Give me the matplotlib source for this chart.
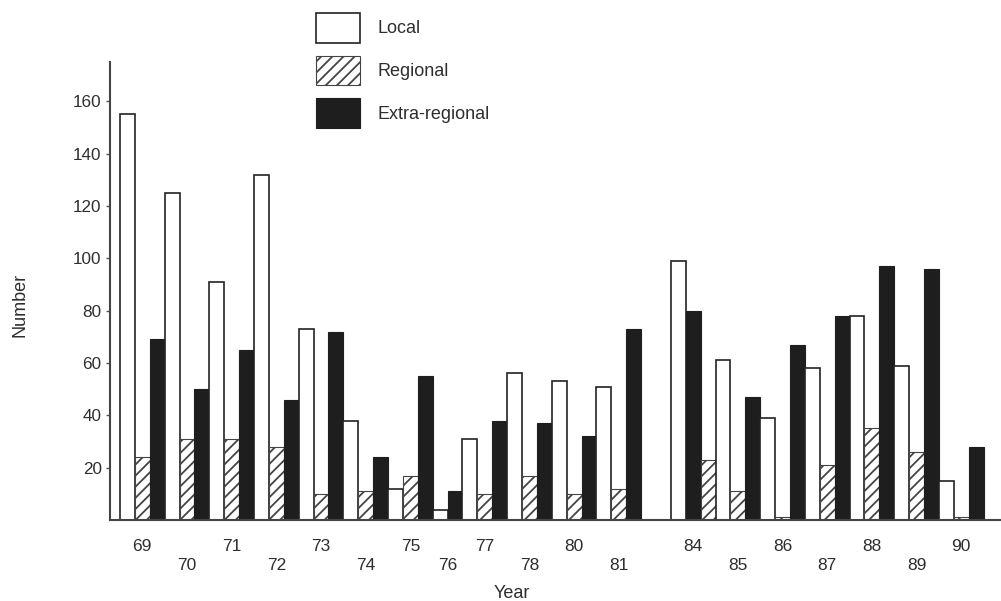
import numpy as np
import matplotlib
matplotlib.use('Agg')
import matplotlib.pyplot as plt
import matplotlib.transforms as mtransforms
from matplotlib.patches import Patch

plt.rcParams['font.family'] = ['Liberation Sans', 'DejaVu Sans']
plt.rcParams['hatch.linewidth'] = 1.3

# datos
years = ['69', '70', '71', '72', '73', '74', '75', '76', '77', '78',
         '80', '81', '84', '85', '86', '87', '88', '89', '90']
local = [155, 125, 91, 132, 73, 38, 12, 4, 31, 56,
         53, 51, 99, 61, 39, 58, 78, 59, 15]
regional = [24, 31, 31, 28, 10, 11, 17, None, 10, 17,
            10, 12, 23, 11, 1, 21, 35, 26, 1]
extra = [69, 50, 65, 46, 72, 24, 55, 11, 38, 37,
         32, 73, 80, 47, 67, 78, 97, 96, 28]

labels = ['Local', 'Regional', 'Extra-regional']
order = {'84': ['local', 'extra', 'regional']}  # en 84 las barras van en otro orden
gap_after = '81'  # hueco 82-83

values = {'local': local, 'regional': regional, 'extra': extra}
styles = {
    'local': dict(facecolor='white', edgecolor='#222222', linewidth=1.2),
    'regional': dict(facecolor='white', edgecolor='#444444', hatch='///', linewidth=0.8),
    'extra': dict(facecolor='#1e1e1e', edgecolor='#1e1e1e', linewidth=0.8),
}
txt = '#2e2e2e'

fig = plt.figure(figsize=(10.01, 6.01), dpi=100)
ax = fig.add_axes([110/1001, 1-520/601, 890/1001, 458/601])

pos = 0.0
centers = []
for i, yr in enumerate(years):
    start = pos
    for key in order.get(yr, ['local', 'regional', 'extra']):
        v = values[key][i]
        if v is None:
            continue
        ax.bar(pos, v, width=1.0, align='edge', **styles[key])
        pos += 1
    centers.append((start + pos) / 2)
    if yr == gap_after:
        pos += 2.0

ax.set_xlim(-0.67, pos + 1.1)
ax.set_ylim(0, 175)

# etiquetas de los años, alternadas arriba/abajo
trans = mtransforms.blended_transform_factory(ax.transData, ax.transAxes)
for i, (c, yr) in enumerate(zip(centers, years)):
    yy = -0.057 if i % 2 == 0 else -0.100
    ax.text(c, yy, yr, transform=trans, ha='center', va='center',
            fontsize=12.5, color=txt)

ax.set_xticks([])
ax.set_yticks(range(20, 161, 20))
ax.tick_params(axis='y', length=3, width=1, color='#555555', pad=3,
               labelsize=12.3, labelcolor=txt)

for s in ['top', 'right']:
    ax.spines[s].set_visible(False)
for s in ['left', 'bottom']:
    ax.spines[s].set_color('#444444')
    ax.spines[s].set_linewidth(1.5)

ax.set_ylabel('Number', fontsize=13, color=txt)
ax.yaxis.set_label_coords(-0.092, 0.469)
ax.set_xlabel('Year', fontsize=13, color=txt)
ax.xaxis.set_label_coords(0.452, -0.142)

handles = [Patch(**styles['local']), Patch(**styles['regional']), Patch(**styles['extra'])]
ax.legend(handles, labels, loc='upper left', bbox_to_anchor=(316/1001, 1-13/601),
          bbox_transform=fig.transFigure, frameon=False, handlelength=2.44,
          handleheight=2.15, labelspacing=0.72, handletextpad=0.94,
          borderpad=0, borderaxespad=0, fontsize=13, labelcolor=txt)

fig.savefig('out.png', dpi=100)
